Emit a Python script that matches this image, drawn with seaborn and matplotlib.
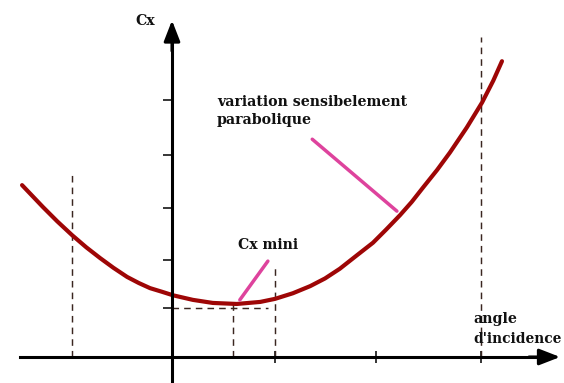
import matplotlib
matplotlib.use("Agg")
import matplotlib.pyplot as plt
import seaborn as sns
import pandas as pd

# Drag coefficient Cx versus angle of incidence
angle = [-2.94, -2.53, -2.25, -1.96, -1.68, -1.41, -1.15, -0.88, -0.65, -0.43,
         -0.20, 0.02, 0.41, 0.80, 1.27, 1.73, 2.02, 2.37, 2.71, 3.00,
         3.29, 3.62, 3.94, 4.20, 4.47, 4.70, 4.92, 5.20, 5.45, 5.78,
         6.08, 6.30, 6.47]
cx = [3.37, 2.94, 2.66, 2.39, 2.15, 1.94, 1.75, 1.57, 1.45, 1.35,
      1.28, 1.21, 1.12, 1.06, 1.04, 1.08, 1.14, 1.25, 1.39, 1.54,
      1.73, 1.99, 2.24, 2.50, 2.78, 3.04, 3.32, 3.67, 4.01, 4.50,
      4.99, 5.42, 5.80]

x_ticks = [2.02, 4.0, 6.06]
y_ticks = [0.96, 1.90, 2.92, 3.96, 5.04]

# guide lines: (x, top of the vertical dashed line)
guides_x = [-1.96, 1.20, 2.02, 6.06]
guides_top = [3.63, 1.12, 1.80, 6.27]
cx_min = 0.96
cx_min_end = 1.88

df = pd.DataFrame({"angle": angle, "Cx": cx})

sns.set_style("white")
plt.rcParams["font.family"] = ["DejaVu Serif"]

fig = plt.figure(figsize=(5.64, 3.83), dpi=100)
ax = fig.add_axes([0, 0, 1, 1])
ax.set_xlim(-172 / 51, 392 / 51)
ax.set_ylim(-26 / 51, 357 / 51)

dash = dict(color="#3a2620", lw=1.05, linestyle=(0, (4.5, 3.5)))
for gx, gt in zip(guides_x, guides_top):
    ax.plot([gx, gx], [0, gt], **dash)
ax.plot([0, cx_min_end], [cx_min, cx_min], **dash)

sns.lineplot(data=df, x="angle", y="Cx", ax=ax, color="#9e0606", lw=3.0,
             sort=False, estimator=None, solid_joinstyle="round",
             solid_capstyle="round")

# axes through the origin
for side in ("top", "right"):
    ax.spines[side].set_visible(False)
ax.spines["left"].set_position(("data", 0))
ax.spines["bottom"].set_position(("data", 0))
for side in ("left", "bottom"):
    ax.spines[side].set_linewidth(2.2)
    ax.spines[side].set_color("black")
ax.spines["left"].set_bounds(-0.6, 6.3)
ax.spines["bottom"].set_bounds(-2.98, 7.35)

ax.set_xticks(x_ticks)
ax.set_yticks(y_ticks)
ax.set_xticklabels([])
ax.set_yticklabels([])
ax.tick_params(axis="x", bottom=True, direction="inout", length=8.5,
               width=1.1, color="black")
ax.tick_params(axis="y", left=True, direction="out", length=6.5,
               width=1.1, color="black")
ax.set_xlabel("")
ax.set_ylabel("")

arrow = dict(arrowstyle="-|>,head_length=0.9,head_width=0.35", color="black",
             lw=2.2, shrinkA=0, shrinkB=0, mutation_scale=14)
ax.annotate("", xy=(0, 6.60), xytext=(0, 6.0), arrowprops=arrow)
ax.annotate("", xy=(7.61, 0), xytext=(7.0, 0), arrowprops=arrow)

# pointers
pink = "#de439d"
ax.plot([2.75, 4.41], [4.27, 2.86], color=pink, lw=2.5, solid_capstyle="round")
ax.plot([1.88, 1.33], [1.88, 1.12], color=pink, lw=2.5, solid_capstyle="round")

txt = dict(fontweight="bold", fontsize=10.2, color="#111111", va="baseline",
           ha="left")
ax.text(-0.71, 6.51, "Cx", **txt)
ax.text(0.88, 4.92, "variation sensibelement", **txt)
ax.text(0.88, 4.57, "parabolique", **txt)
ax.text(1.29, 2.12, "Cx mini", **txt)
ax.text(5.90, 0.67, "angle", **txt)
ax.text(5.90, 0.27, "d'incidence", fontsize=9.9,
        **{k: v for k, v in txt.items() if k != "fontsize"})

fig.savefig("out.png", dpi=100)
